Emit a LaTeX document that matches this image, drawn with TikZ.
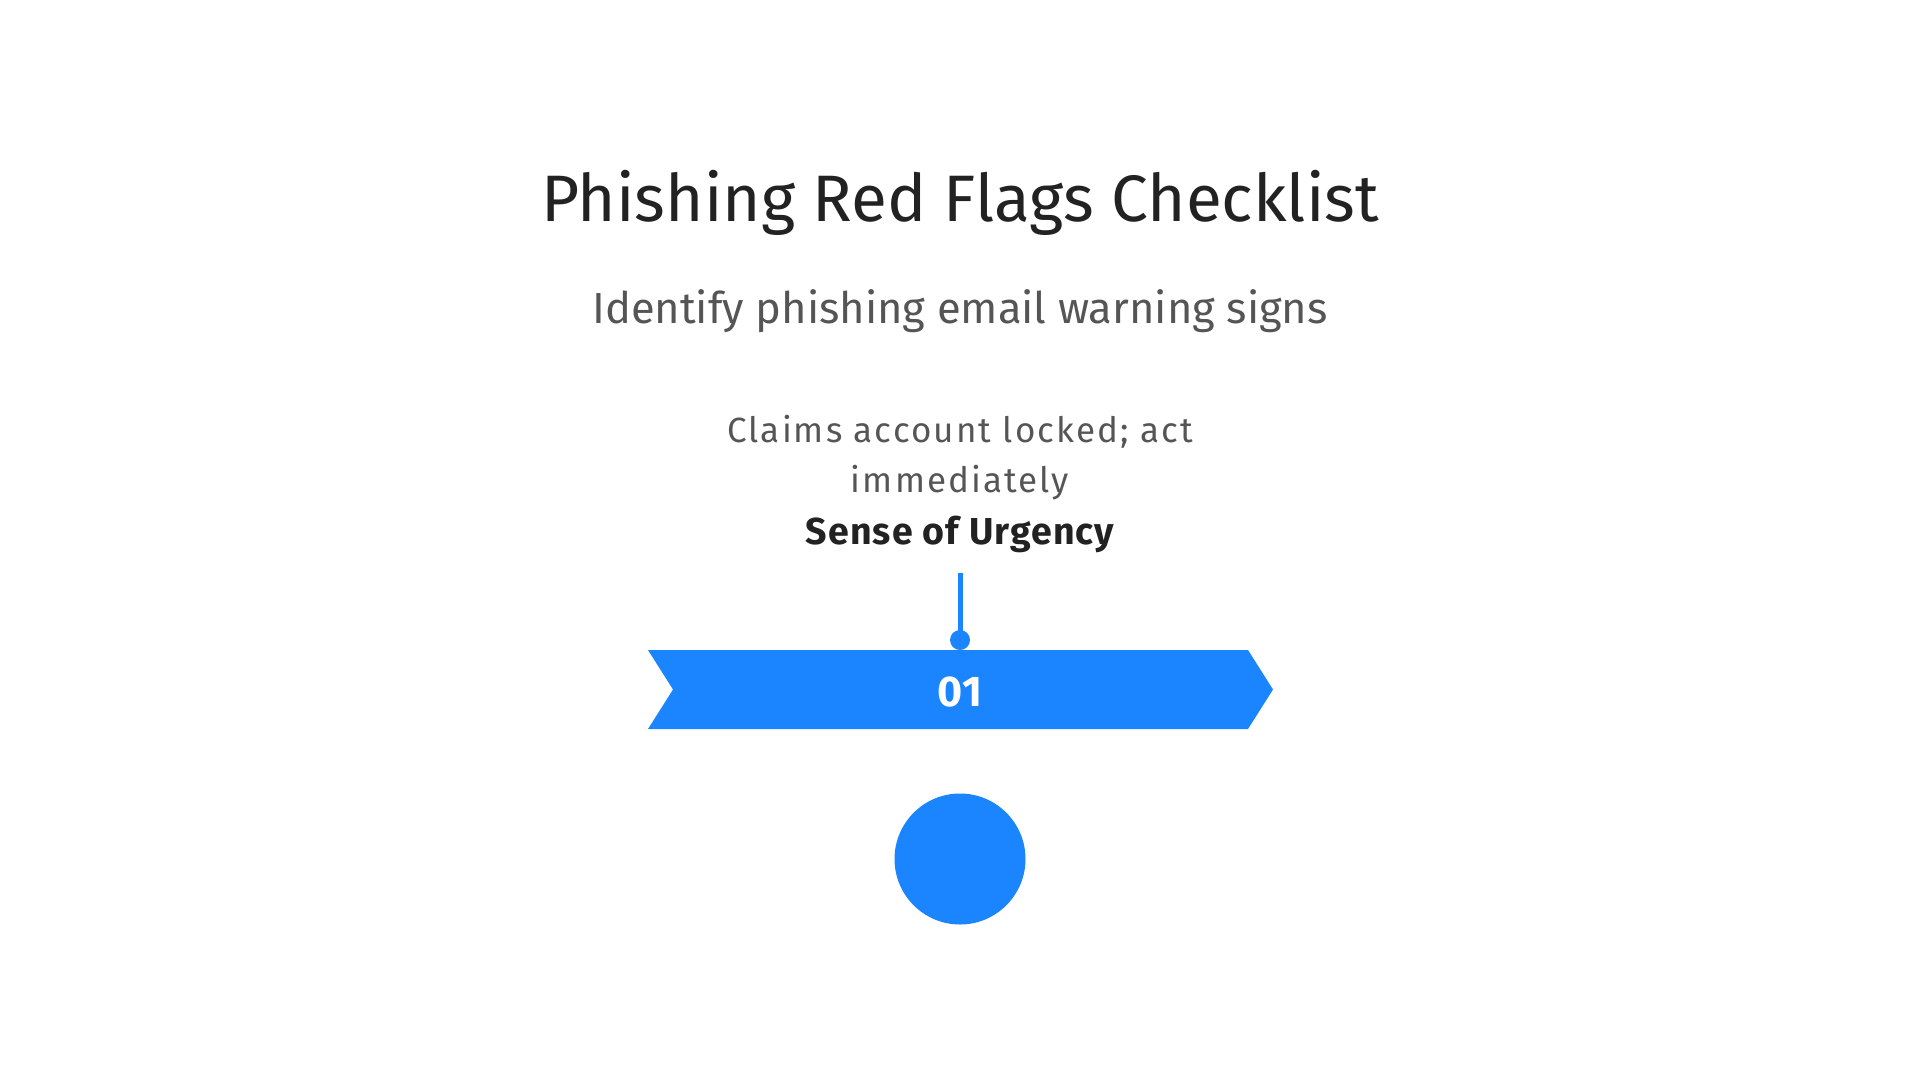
\documentclass[tikz,border=0pt]{standalone}
\usepackage{fontspec}
\setmainfont{Fira Sans}
\definecolor{brandblue}{RGB}{26,133,255}
\definecolor{titlegray}{RGB}{34,34,34}
\definecolor{textgray}{RGB}{85,85,85}
\begin{document}
\begin{tikzpicture}[x=1pt,y=-1pt,
  titletext/.style={anchor=base,inner sep=0pt,text=titlegray,font=\fontsize{65.7}{70}\selectfont},
  subtext/.style={anchor=base,inner sep=0pt,text=textgray,font=\fontsize{43.5}{48}\selectfont},
  desctext/.style={anchor=base,inner sep=0pt,text=textgray,font=\fontsize{35}{40}\selectfont\addfontfeatures{LetterSpace=6}},
  headtext/.style={anchor=base,inner sep=0pt,text=titlegray,font=\bfseries\fontsize{37.5}{42}\selectfont\addfontfeatures{LetterSpace=3}},
  numtext/.style={anchor=base,inner sep=0pt,text=white,font=\bfseries\fontsize{43}{48}\selectfont},
  stem/.style={draw=brandblue,line width=5pt},
]
\useasboundingbox (0,0) rectangle (1920,1080);
\node[titletext] (title) at (960,221) {Phishing Red Flags Checklist};
\node[subtext] (sub) at (960,323) {Identify phishing email warning signs};
\node[desctext] (desc1) at (960,442) {Claims account locked; act};
\node[desctext] (desc2) at (960,492) {immediately};
\node[headtext] (head) at (960,544) {Sense of Urgency};
\fill[brandblue] (648,650) -- (1248,650) -- (1273,689.5) -- (1248,729) -- (648,729) -- (673,689.5) -- cycle;
\coordinate (stemtop) at (960,573);
\node[circle,fill=brandblue,minimum size=20pt,inner sep=0pt] (dot) at (960,640) {};
\draw[stem] (stemtop) -- (dot.center);
\node[numtext] (num) at (960,706) {01};
\node[circle,fill=brandblue,minimum size=131pt,inner sep=0pt] (bigdot) at (960,859) {};
\end{tikzpicture}
\end{document}
